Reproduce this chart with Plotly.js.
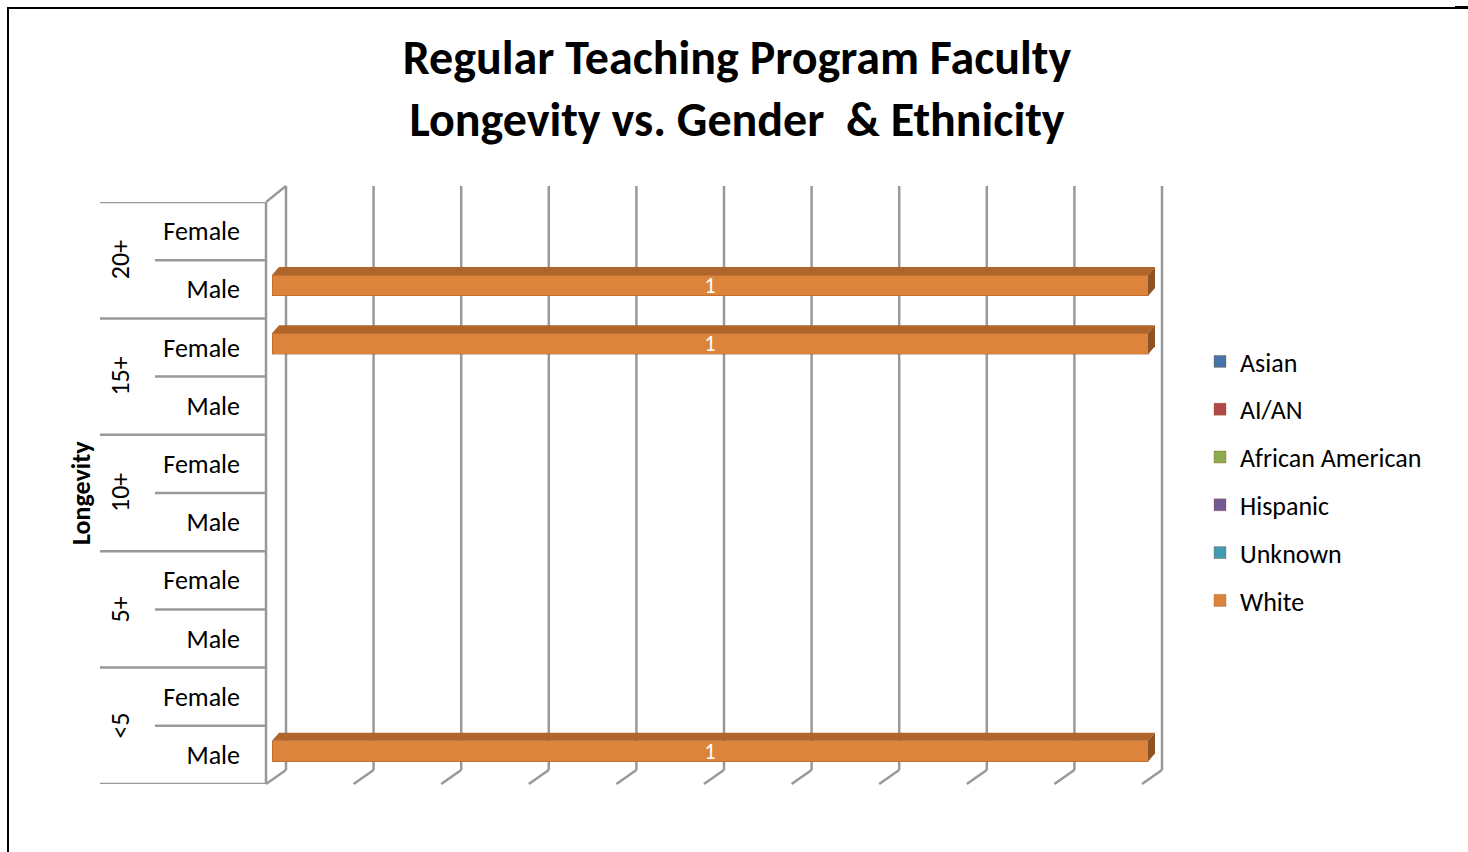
<!DOCTYPE html>
<html>
<head>
<meta charset="utf-8">
<script src="https://cdn.plot.ly/plotly-3.0.1.min.js"></script>
<style>
  html, body { margin: 0; padding: 0; background: #fff; }
  #frame { position: absolute; left: 7px; top: 7px; width: 1470px; height: 860px;
           border-top: 2px solid #000; border-left: 2px solid #000; }
  #mark { position: absolute; left: 1455px; top: 6px; width: 13px; height: 3px; background: #000; }
  #chart { position: absolute; left: 0; top: 0; width: 1468px; height: 852px; }
</style>
</head>
<body>
<div id="frame"></div>
<div id="mark"></div>
<div id="chart"></div>
<script>
// ---- data (bottom to top) ----
const longevity = ["<5", "<5", "5+", "5+", "10+", "10+", "15+", "15+", "20+", "20+"];
const gender    = ["Male", "Female", "Male", "Female", "Male", "Female", "Male", "Female", "Male", "Female"];
const groups    = ["<5", "5+", "10+", "15+", "20+"];
const seriesNames = ["Asian", "AI/AN", "African American", "Hispanic", "Unknown", "White"];
const asian    = [0, 0, 0, 0, 0, 0, 0, 0, 0, 0];
const aian     = [0, 0, 0, 0, 0, 0, 0, 0, 0, 0];
const african  = [0, 0, 0, 0, 0, 0, 0, 0, 0, 0];
const hispanic = [0, 0, 0, 0, 0, 0, 0, 0, 0, 0];
const unknown  = [0, 0, 0, 0, 0, 0, 0, 0, 0, 0];
const white    = [1, 0, 0, 0, 0, 0, 0, 1, 1, 0];
const seriesValues = [asian, aian, african, hispanic, unknown, white];
const seriesColors = ["#4674AA", "#B04845", "#8BAB4E", "#735996", "#439BB1", "#DC833C"];
const topColors    = ["#35598A", "#8C3532", "#6E8A3A", "#5A4479", "#337F92", "#B0652B"];

// ---- geometry helpers (pixels -> units) ----
const PX = 876;            // px per x unit
const PY = 58.2;           // px per category
const plotL = 266, plotR = 1165, plotT = 202, plotB = 784;
const xMin = -6 / PX, xMax = xMin + (plotR - plotL) / PX;
const barWidth = 0.36, barOffset = -0.115;

const cats = longevity.map((g, i) => g + " " + gender[i]);
const font = "Carlito, Lato, 'Open Sans', sans-serif";

const traces = [];
seriesNames.forEach((name, s) => {
  const vals = seriesValues[s];
  traces.push({
    type: "bar", orientation: "h", name: name,
    y: cats, x: vals,
    width: barWidth, offset: barOffset,
    marker: { color: seriesColors[s], line: { color: "rgba(150,80,30,0.35)", width: 1 } },
    text: vals.map(v => v > 0 ? String(v) : ""),
    textposition: "inside", insidetextanchor: "middle", textangle: 0, constraintext: "none",
    textfont: { color: "#ffffff", size: 22, family: font },
    legendgroup: name, hoverinfo: "x+y+name"
  });
});

// 3D top and side faces of each bar segment, computed from the same data
const dxTop = 7 / PX, dyTop = 8 / PY;
cats.forEach((c, i) => {
  const total = seriesValues.reduce((a, arr) => a + arr[i], 0);
  if (total <= 0) return;
  let cum = 0;
  seriesValues.forEach((arr, s) => {
    const v = arr[i];
    if (v <= 0) return;
    const x0 = cum / total, x1 = (cum + v) / total;
    cum += v;
    const yTop = i + barOffset + barWidth, yBot = i + barOffset;
    traces.push({
      type: "scatter", mode: "lines", fill: "toself", yaxis: "y2",
      x: [x0, x1, x1 + dxTop, x0 + dxTop, x0],
      y: [yTop, yTop, yTop + dyTop, yTop + dyTop, yTop],
      fillcolor: topColors[s], line: { width: 0 }, showlegend: false, hoverinfo: "skip"
    });
    if (cum >= total) {
      traces.push({
        type: "scatter", mode: "lines", fill: "toself", yaxis: "y2",
        x: [x1, x1 + dxTop, x1 + dxTop, x1, x1],
        y: [yBot, yBot + dyTop, yTop + dyTop, yTop, yBot],
        fillcolor: "#8E5323", line: { width: 0 }, showlegend: false, hoverinfo: "skip"
      });
    }
  });
});

// ---- decorative 3D walls / gridlines ----
const gridColor = "#999999";
const backDx = 14 / PX, frontDx = 20 / PX;
const yBackTop = (plotB - 186) / (plotB - plotT);
const yBackBot = (plotB - 770) / (plotB - plotT);
const shapes = [];
for (let k = 0; k <= 10; k++) {
  const xb = k / 10 + backDx;
  shapes.push({ type: "line", xref: "x", yref: "paper", x0: xb, x1: xb, y0: yBackBot, y1: yBackTop,
                line: { color: gridColor, width: 2.5 }, layer: "below" });
  shapes.push({ type: "line", xref: "x", yref: "paper", x0: xb, x1: xb - frontDx, y0: yBackBot, y1: 0,
                line: { color: gridColor, width: 2.5 }, layer: "below" });
}
// front left edge of wall + top diagonal
shapes.push({ type: "line", xref: "paper", yref: "paper", x0: 0, x1: 0, y0: 0, y1: 1,
              line: { color: gridColor, width: 2.5 } });
shapes.push({ type: "line", xref: "x", yref: "paper", x0: xMin, x1: backDx, y0: 1, y1: yBackTop,
              line: { color: gridColor, width: 2.5 } });
// category dividers on the left
const pxToPaperX = px => (px - plotL) / (plotR - plotL);
for (let k = -1; k < cats.length; k++) {
  const isGroup = (k + 1) % 2 === 0;
  shapes.push({ type: "line", xref: "paper", yref: "y2",
                x0: pxToPaperX(isGroup ? 100 : 155), x1: 0, y0: k + 0.5, y1: k + 0.5,
                line: { color: gridColor, width: 2.5 } });
}

// group labels
const annotations = groups.map((g, gi) => ({
  xref: "paper", yref: "y2", x: pxToPaperX(120), y: gi * 2 + 0.5,
  text: g, showarrow: false, textangle: -90,
  font: { family: font, size: 26, color: "#000" }, xanchor: "center", yanchor: "middle"
}));
annotations.push({
  xref: "paper", yref: "paper", x: pxToPaperX(81), y: 0.5, text: "<b>Longevity</b>",
  showarrow: false, textangle: -90, font: { family: font, size: 26, color: "#000" },
  xanchor: "center", yanchor: "middle"
});

const layout = {
  width: 1468, height: 852,
  paper_bgcolor: "rgba(0,0,0,0)", plot_bgcolor: "rgba(0,0,0,0)",
  margin: { l: plotL, r: 1468 - plotR, t: plotT, b: 852 - plotB, pad: 0 },
  barmode: "stack", barnorm: "fraction",
  title: {
    text: "<b>Regular Teaching Program Faculty<br>Longevity vs. Gender  &amp; Ethnicity</b>",
    font: { family: font, size: 48, color: "#000" },
    x: 737 / 1468, xanchor: "center", xref: "container",
    y: 1 - 74 / 852, yanchor: "middle", yref: "container"
  },
  xaxis: { range: [xMin, xMax], showgrid: false, zeroline: false, showline: false,
           showticklabels: false, ticks: "", fixedrange: true },
  yaxis: { type: "category", categoryorder: "array", categoryarray: cats,
           range: [-0.5, cats.length - 0.5],
           tickmode: "array", tickvals: cats, ticktext: gender,
           showgrid: false, zeroline: false, showline: false, ticks: "",
           ticklabelstandoff: 25,
           tickfont: { family: font, size: 26, color: "#000" } },
  yaxis2: { overlaying: "y", range: [-0.5, cats.length - 0.5], visible: false,
            showgrid: false, zeroline: false },
  legend: {
    x: (1200 - plotL) / (plotR - plotL), xanchor: "left",
    y: (plotB - 338) / (plotB - plotT), yanchor: "top",
    traceorder: "grouped", tracegroupgap: 11,
    font: { family: font, size: 26, color: "#000" },
    bgcolor: "rgba(0,0,0,0)"
  },
  shapes: shapes, annotations: annotations,
  showlegend: true
};

Plotly.newPlot("chart", traces, layout, { displayModeBar: false, staticPlot: true });
</script>
</body>
</html>
